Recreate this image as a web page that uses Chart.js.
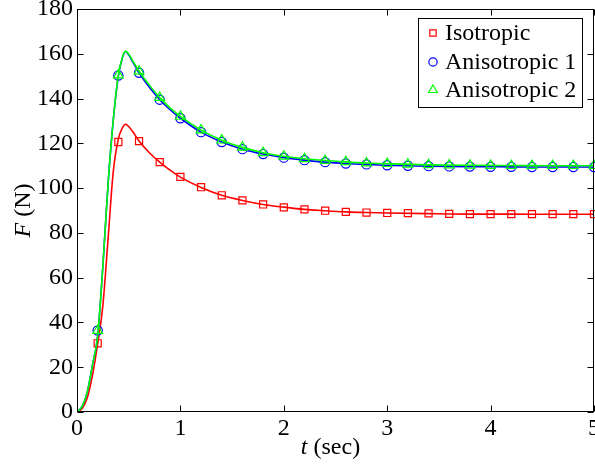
<!DOCTYPE html>
<html><head><meta charset="utf-8">
<script src="https://cdn.jsdelivr.net/npm/chart.js@4/dist/chart.umd.min.js"></script>
<style>html,body{margin:0;padding:0;background:#fff;overflow:hidden}canvas{display:block}</style>
</head><body>
<canvas id="c" width="595" height="465"></canvas>
<script>
// ---- data ----
const xTicks = [0, 1, 2, 3, 4, 5];
const yTicks = [0, 20, 40, 60, 80, 100, 120, 140, 160, 180];
const seriesNames = ['Isotropic', 'Anisotropic 1', 'Anisotropic 2'];
const xTitleItalic = 't', xTitleRest = ' (sec)';
const yTitleItalic = 'F', yTitleRest = ' (N)';

// smooth curves
const lineT      = [0, 0.05, 0.1, 0.15, 0.2, 0.25, 0.3, 0.35, 0.4, 0.44, 0.47, 0.5, 0.55, 0.6, 0.7, 0.8, 0.9, 1.0, 1.2, 1.4, 1.6, 1.8, 2.0, 2.2, 2.4, 2.6, 2.8, 3.0, 3.4, 3.8, 4.2, 4.6, 5.0];
const isoLine    = [0, 1.5, 6.5, 16.5, 30.5, 47.5, 77, 107, 122, 127, 128.5, 127.5, 124.5, 121, 115.8, 111.6, 108, 104.9, 100.3, 96.8, 94.5, 92.7, 91.5, 90.5, 89.9, 89.4, 89.1, 88.9, 88.6, 88.4, 88.4, 88.3, 88.3];
const aniso1Line = [0, 2.5, 9, 21, 34, 65, 101.5, 130, 150, 158.3, 161, 159.5, 155.5, 151.5, 145, 139.5, 135, 131.2, 125, 120.6, 117.4, 115.2, 113.6, 112.5, 111.6, 111, 110.6, 110.2, 109.8, 109.6, 109.5, 109.4, 109.4];
const aniso2Line = [0, 2.5, 9, 21, 34, 65, 101.5, 130, 150.5, 158.6, 161.2, 159.9, 156, 152.2, 146, 140.4, 135.8, 132, 125.9, 121.4, 118.2, 115.8, 114.2, 113.1, 112.3, 111.7, 111.2, 110.9, 110.4, 110.2, 110.1, 110, 110];

// sampled markers
const markerT       = [0.2, 0.4, 0.6, 0.8, 1.0, 1.2, 1.4, 1.6, 1.8, 2.0, 2.2, 2.4, 2.6, 2.8, 3.0, 3.2, 3.4, 3.6, 3.8, 4.0, 4.2, 4.4, 4.6, 4.8, 5.0];
const isoMarkers    = [30.7, 120.6, 121.0, 111.6, 105.0, 100.4, 96.8, 94.5, 92.7, 91.4, 90.5, 89.9, 89.4, 89.1, 88.9, 88.8, 88.7, 88.5, 88.4, 88.4, 88.4, 88.4, 88.4, 88.4, 88.4];
const aniso1Markers = [36.4, 150.3, 151.5, 139.5, 131.2, 125.0, 120.6, 117.4, 115.2, 113.6, 112.5, 111.6, 111.0, 110.6, 110.2, 110.0, 109.8, 109.7, 109.6, 109.5, 109.5, 109.4, 109.4, 109.4, 109.4];
const aniso2Markers = [36.4, 150.5, 152.2, 140.4, 132.0, 125.9, 121.4, 118.2, 115.8, 114.2, 113.1, 112.3, 111.7, 111.2, 110.9, 110.6, 110.4, 110.3, 110.2, 110.1, 110.0, 110.0, 110.0, 110.0, 110.0];

const colors = ['#ff0000', '#0000ff', '#00ff00'];
const shapes = ['rect', 'circle', 'triangle'];
const radii = [5, 4.6, 5.6];

const pts = (xs, ys) => xs.map((x, i) => ({x: x, y: ys[i]}));
const lines = [isoLine, aniso1Line, aniso2Line];
const marks = [isoMarkers, aniso1Markers, aniso2Markers];
const NONE = 'rgba(0,0,0,0)';

const datasets = [];
for (let s = 0; s < 3; s++) {
  datasets.push({
    label: seriesNames[s] + ' line', data: pts(lineT, lines[s]),
    borderColor: colors[s], borderWidth: 1.6, pointRadius: 0, fill: false,
    cubicInterpolationMode: 'monotone', order: 5 - 2 * s, isLine: true
  });
  datasets.push({
    label: seriesNames[s], data: pts(markerT, marks[s]),
    showLine: false, borderColor: colors[s], backgroundColor: NONE,
    pointBackgroundColor: NONE, pointBorderColor: colors[s],
    pointStyle: shapes[s], pointRadius: radii[s], pointBorderWidth: 1.2,
    order: 4 - 2 * s, clip: false, seriesIndex: s
  });
}

const FONT = '"Liberation Serif", "Times New Roman", serif';

const decor = {
  id: 'decor',
  afterDraw(chart) {
    const ctx = chart.ctx, a = chart.chartArea;
    const xs = chart.scales.x, ys = chart.scales.y;
    ctx.save();
    ctx.strokeStyle = '#000'; ctx.lineWidth = 1;
    const L = Math.round(a.left) + 0.5, R = Math.round(a.right) - 0.5;
    const T = Math.round(a.top) + 0.5, B = Math.round(a.bottom) - 0.5;
    ctx.strokeRect(L, T, R - L, B - T);
    const tl = 6;
    ctx.beginPath();
    xTicks.forEach(v => {
      const p = Math.round(xs.getPixelForValue(v)) + 0.5;
      ctx.moveTo(p, B); ctx.lineTo(p, B - tl);
      ctx.moveTo(p, T); ctx.lineTo(p, T + tl);
    });
    yTicks.forEach(v => {
      const p = Math.round(ys.getPixelForValue(v)) + 0.5;
      ctx.moveTo(L, p); ctx.lineTo(L + tl, p);
      ctx.moveTo(R, p); ctx.lineTo(R - tl, p);
    });
    ctx.stroke();

    // legend
    const lx = 418.5, ly = 18.5, lw = 164, lh = 89;
    ctx.fillStyle = '#fff';
    ctx.fillRect(lx, ly, lw, lh);
    ctx.strokeRect(lx, ly, lw, lh);
    const rowY = [33, 62, 90];
    ctx.font = '24px ' + FONT;
    ctx.textBaseline = 'middle'; ctx.textAlign = 'left';
    chart.data.datasets.forEach(ds => {
      if (ds.isLine) return;
      const s = ds.seriesIndex;
      ctx.strokeStyle = colors[s]; ctx.lineWidth = 1.2; ctx.fillStyle = NONE;
      Chart.helpers.drawPoint(ctx, {pointStyle: shapes[s], radius: radii[s] * 0.9, rotation: 0, borderWidth: 1.2}, 433, rowY[s]);
      ctx.fillStyle = '#000';
      ctx.fillText(ds.label, 445, rowY[s] + 1);
    });

    // axis titles
    ctx.fillStyle = '#000';
    ctx.textBaseline = 'middle';
    const itF = 'italic 24px ' + FONT, reF = '24px ' + FONT;
    ctx.font = itF; const w1 = ctx.measureText(xTitleItalic).width;
    ctx.font = reF; const w2 = ctx.measureText(xTitleRest).width;
    let cx = (a.left + a.right) / 2 - (w1 + w2) / 2 - 5;
    const ty = 448;
    ctx.font = itF; ctx.fillText(xTitleItalic, cx, ty);
    ctx.font = reF; ctx.fillText(xTitleRest, cx + w1, ty);

    ctx.save();
    ctx.translate(24, (a.top + a.bottom) / 2);
    ctx.rotate(-Math.PI / 2);
    ctx.font = itF; const v1 = ctx.measureText(yTitleItalic).width;
    ctx.font = reF; const v2 = ctx.measureText(yTitleRest).width;
    let sx = -(v1 + v2) / 2;
    ctx.font = itF; ctx.fillText(yTitleItalic, sx, 0);
    ctx.font = reF; ctx.fillText(yTitleRest, sx + v1, 0);
    ctx.restore();
    ctx.restore();
  }
};

new Chart(document.getElementById('c'), {
  type: 'line',
  data: { datasets },
  options: {
    responsive: false, animation: false, devicePixelRatio: 1,
    layout: { autoPadding: false, padding: { left: 0, right: 1, top: 9, bottom: 0 } },
    plugins: { legend: { display: false }, tooltip: { enabled: false } },
    scales: {
      x: {
        type: 'linear', min: 0, max: 5,
        afterBuildTicks: s => { s.ticks = xTicks.map(v => ({value: v})); },
        afterFit: s => { s.height = 53; s.paddingLeft = 0; s.paddingRight = 0; },
        grid: { display: false, drawTicks: false }, border: { display: false },
        ticks: { font: { family: FONT, size: 24 }, color: '#000', padding: 2, maxRotation: 0, autoSkip: false }
      },
      y: {
        type: 'linear', min: 0, max: 180,
        afterBuildTicks: s => { s.ticks = yTicks.map(v => ({value: v})); },
        afterFit: s => { s.width = 77; s.paddingTop = 0; s.paddingBottom = 0; },
        grid: { display: false, drawTicks: false }, border: { display: false },
        ticks: { font: { family: FONT, size: 24 }, color: '#000', padding: 4, autoSkip: false }
      }
    }
  },
  plugins: [decor]
});
</script>
</body></html>
